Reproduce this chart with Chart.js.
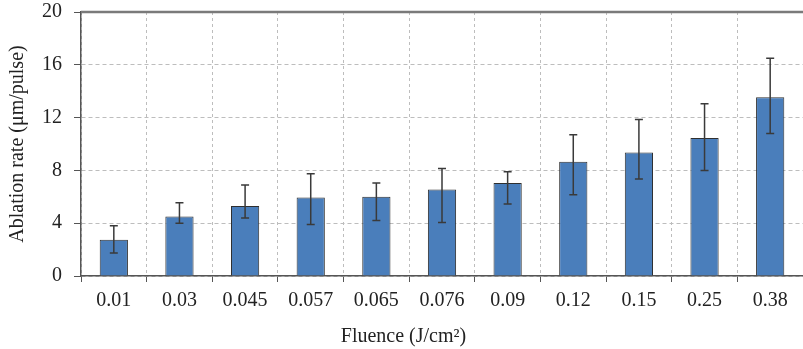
<!DOCTYPE html>
<html>
<head>
<meta charset="utf-8">
<script src="https://cdn.jsdelivr.net/npm/chart.js@4"></script>
<style>
  html, body { margin: 0; padding: 0; background: #fff; }
  #wrap { width: 803px; height: 349px; }
</style>
</head>
<body>
<div id="wrap"><canvas id="grafik"></canvas></div>
<script>
// fluence categories (J/cm2)
const labels = ['0.01', '0.03', '0.045', '0.057', '0.065', '0.076', '0.09', '0.12', '0.15', '0.25', '0.38'];
// ablation rate (um/pulse)
const rates = [2.75, 4.5, 5.3, 5.95, 6.0, 6.55, 7.05, 8.65, 9.35, 10.45, 13.55];
// error bar lengths above and below each bar
const errUp = [1.05, 1.05, 1.6, 1.8, 1.05, 1.6, 0.85, 2.05, 2.5, 2.6, 2.95];
const errDown = [1.0, 0.5, 0.9, 2.05, 1.8, 2.5, 1.6, 2.5, 2.0, 2.45, 2.75];
const yTicks = [0, 4, 8, 12, 16, 20];

const serif = 'Liberation Serif';
const ink = '#222';

// error bars + top frame line
const hataCubugu = {
    id: 'hataCubugu',
    afterDatasetsDraw(chart) {
        const ctx = chart.ctx;
        const y = chart.scales.y;
        const meta = chart.getDatasetMeta(0);
        ctx.save();
        ctx.strokeStyle = '#3a3a3a';
        ctx.lineWidth = 1.5;
        meta.data.forEach(function(bar, i) {
            const top = y.getPixelForValue(rates[i] + errUp[i]);
            const bot = y.getPixelForValue(rates[i] - errDown[i]);
            const cap = 4;
            ctx.beginPath();
            ctx.moveTo(bar.x, top);
            ctx.lineTo(bar.x, bot);
            ctx.moveTo(bar.x - cap, top);
            ctx.lineTo(bar.x + cap, top);
            ctx.moveTo(bar.x - cap, bot);
            ctx.lineTo(bar.x + cap, bot);
            ctx.stroke();
        });
        // frame line along the top of the plot
        const a = chart.chartArea;
        ctx.strokeStyle = '#7a7a7a';
        ctx.lineWidth = 2.5;
        ctx.beginPath();
        ctx.moveTo(a.left, a.top);
        ctx.lineTo(a.right, a.top);
        ctx.stroke();
        ctx.restore();
    }
};

new Chart(document.getElementById('grafik'), {
    type: 'bar',
    data: {
        labels: labels,
        datasets: [{
            label: 'Ablation rate',
            data: rates,
            backgroundColor: 'rgb(74, 126, 187)',
            borderColor: '#2f2f2f',
            borderWidth: 1,
            categoryPercentage: 1,
            barPercentage: 0.43
        }]
    },
    options: {
        responsive: true,
        maintainAspectRatio: false,
        animation: false,
        layout: { padding: { top: 12, right: -4, left: 0, bottom: 0 } },
        plugins: {
            legend: { display: false },
            tooltip: { enabled: false },
            title: {
                display: true,
                position: 'bottom',
                text: 'Fluence (J/cm²)',
                color: ink,
                font: { family: serif, size: 20, weight: 'normal' },
                padding: { top: 5, bottom: 0 }
            }
        },
        scales: {
            x: {
                grid: {
                    color: '#bdbdbd',
                    tickColor: '#555',
                    tickLength: 6,
                    offset: true
                },
                border: { color: '#555', width: 1.5, dash: [3, 3] },
                ticks: {
                    color: ink,
                    padding: 7,
                    font: { family: serif, size: 20 }
                }
            },
            y: {
                min: 0,
                max: 20,
                afterBuildTicks: function(scale) {
                    scale.ticks = yTicks.map(function(v) { return { value: v }; });
                },
                afterFit: function(scale) {
                    scale.paddingTop = 0;
                },
                grid: {
                    color: '#bdbdbd',
                    tickColor: '#555',
                    tickLength: 7
                },
                border: { color: '#555', width: 1.5, dash: [4, 3] },
                ticks: {
                    color: ink,
                    padding: 12,
                    font: { family: serif, size: 20 }
                },
                title: {
                    display: true,
                    text: 'Ablation rate (μm/pulse)',
                    color: ink,
                    font: { family: serif, size: 20 },
                    padding: { top: 6, bottom: 0 }
                }
            }
        }
    },
    plugins: [hataCubugu]
});
</script>
</body>
</html>
